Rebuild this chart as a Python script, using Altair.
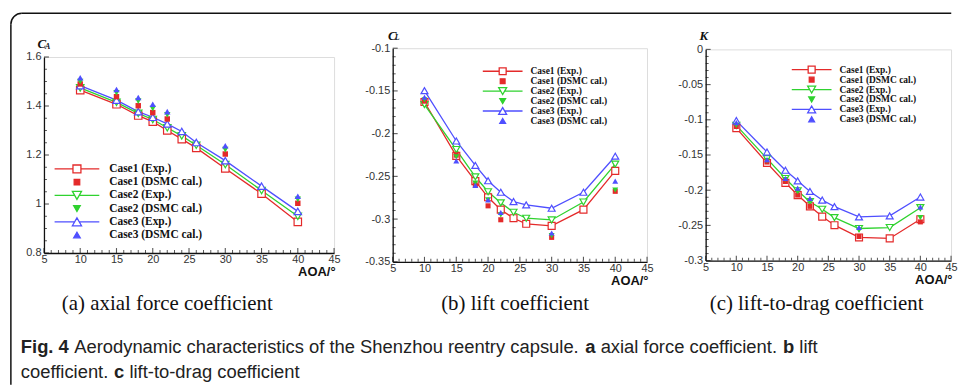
import altair as alt
import pandas as pd

# ---------------- data ----------------
AOA_EXP = [10, 15, 18, 20, 22, 24, 26, 30, 35, 40]
AOA_DSMC = [10, 15, 18, 20, 22, 30, 40]
CASES = ["Case1", "Case2", "Case3"]

CA_EXP = {
    "Case1": [1.465, 1.407, 1.361, 1.336, 1.300, 1.265, 1.229, 1.145, 1.042, 0.927],
    "Case2": [1.474, 1.415, 1.370, 1.345, 1.311, 1.278, 1.240, 1.161, 1.055, 0.950],
    "Case3": [1.483, 1.424, 1.377, 1.354, 1.327, 1.296, 1.251, 1.177, 1.073, 0.970],
}
CA_DSMC = {
    "Case1": [1.490, 1.438, 1.401, 1.373, 1.347, 1.204, 1.003],
    "Case2": [1.500, 1.454, 1.420, 1.390, 1.364, 1.222, 1.019],
    "Case3": [1.515, 1.467, 1.435, 1.407, 1.377, 1.238, 1.032],
}
CL_EXP = {
    "Case1": [-0.163, -0.226, -0.2555, -0.2745, -0.289, -0.299, -0.3055, -0.308, -0.289, -0.2435],
    "Case2": [-0.166, -0.2186, -0.2505, -0.268, -0.281, -0.292, -0.299, -0.301, -0.280, -0.2357],
    "Case3": [-0.1497, -0.2086, -0.2372, -0.2551, -0.2686, -0.2795, -0.2834, -0.2873, -0.2686, -0.2264],
}
CL_DSMC = {
    "Case1": [-0.162, -0.2252, -0.260, -0.2845, -0.3008, -0.3214, -0.2675],
    "Case2": [-0.1605, -0.227, -0.258, -0.2776, -0.295, -0.3194, -0.266],
    "Case3": [-0.1574, -0.2318, -0.2605, -0.2776, -0.2923, -0.3163, -0.2555],
}
K_EXP = {
    "Case1": [-0.1119, -0.1613, -0.1895, -0.2069, -0.2229, -0.2375, -0.2497, -0.2671, -0.2685, -0.2412],
    "Case2": [-0.108, -0.1552, -0.1834, -0.2008, -0.2163, -0.2271, -0.2389, -0.2544, -0.253, -0.2248],
    "Case3": [-0.1011, -0.1458, -0.1716, -0.1867, -0.2017, -0.214, -0.2234, -0.2379, -0.2365, -0.2097],
}
K_DSMC = {
    "Case1": [-0.1095, -0.160, -0.1876, -0.2069, -0.2229, -0.2657, -0.245],
    "Case2": [-0.108, -0.158, -0.1848, -0.2022, -0.216, -0.2568, -0.2389],
    "Case3": [-0.1039, -0.1566, -0.1834, -0.197, -0.2117, -0.253, -0.2238],
}

SERIES = ["Case1 (Exp.)", "Case1 (DSMC cal.)", "Case2 (Exp.)",
          "Case2 (DSMC cal.)", "Case3 (Exp.)", "Case3 (DSMC cal.)"]

X_MAJOR = [5, 10, 15, 20, 25, 30, 35, 40, 45]
CA_TICKS = [0.8, 1, 1.2, 1.4, 1.6]
CL_TICKS = [-0.35, -0.3, -0.25, -0.2, -0.15, -0.1]
K_TICKS = [-0.3, -0.25, -0.2, -0.15, -0.1, -0.05, 0]

CAPTIONS = ["(a) axial force coefficient", "(b) lift coefficient", "(c) lift-to-drag coefficient"]
FIG_LINE1 = [("Fig. 4", "bold"), ("Aerodynamic characteristics of the Shenzhou reentry capsule.", "normal"),
             ("a", "bold"), ("axial force coefficient.", "normal"), ("b", "bold"), ("lift", "normal")]
FIG_LINE2 = [("coefficient.", "normal"), ("c", "bold"), ("lift-to-drag coefficient", "normal")]

# ---------------- styling ----------------
RED, GREEN, BLUE = "#e42a2a", "#2fd22f", "#4f4fff"
CASE_COLORS = [RED, GREEN, BLUE]
EXP_SHAPES = ["square", "triangle-down", "triangle-up"]
SANS = "Liberation Sans"
SERIF = "Liberation Serif"


def long_frame(aoa, table, kind):
    rows = []
    for i, case in enumerate(CASES):
        for a, v in zip(aoa, table[case]):
            rows.append({
                "AOA": a, "val": v, "case": case,
                "series": f"{case} ({'Exp.' if kind == 'Exp' else 'DSMC cal.'})",
                "col": CASE_COLORS[i], "shp": EXP_SHAPES[i],
            })
    return pd.DataFrame(rows)


def legend_paths(r, sq, tri, dsq, dtri):
    def n(v):
        return f"{v / r:.3f}"
    out = []
    out.append(f"M-1,0L{n(-sq)},0M{n(sq)},0L1,0M{n(-sq)},{n(-sq)}L{n(sq)},{n(-sq)}L{n(sq)},{n(sq)}L{n(-sq)},{n(sq)}Z")
    out.append(f"M{n(-dsq)},{n(-dsq)}L{n(dsq)},{n(-dsq)}L{n(dsq)},{n(dsq)}L{n(-dsq)},{n(dsq)}Z")
    h = 0.866 * tri
    out.append(f"M-1,0L{n(-tri / 2)},0M{n(tri / 2)},0L1,0M{n(-tri)},{n(-h)}L{n(tri)},{n(-h)}L0,{n(h)}Z")
    dh = 0.866 * dtri
    out.append(f"M{n(-dtri)},{n(-dh)}L{n(dtri)},{n(-dh)}L0,{n(dh)}Z")
    out.append(f"M-1,0L{n(-tri / 2)},0M{n(tri / 2)},0L1,0M{n(-tri)},{n(h)}L{n(tri)},{n(h)}L0,{n(-h)}Z")
    out.append(f"M{n(-dtri)},{n(dh)}L{n(dtri)},{n(dh)}L0,{n(-dh)}Z")
    return out


def txt(s, x, y, size, weight="normal", font=SANS, align="left", style="normal", color="#1a1a1a"):
    return alt.Chart(pd.DataFrame({"t": [s]})).mark_text(
        align=align, baseline="middle", font=font, fontSize=size,
        fontWeight=weight, fontStyle=style, color=color,
    ).encode(x=alt.value(x), y=alt.value(y), text="t:N")


def panel(exp_tab, dsmc_tab, yticks, yminor, W, H, ytitle, ysub, tpos, spos, xtitle_y,
          leg, msz):
    exp = long_frame(AOA_EXP, exp_tab, "Exp")
    dsmc = long_frame(AOA_DSMC, dsmc_tab, "DSMC")
    both = pd.concat([exp, dsmc], ignore_index=True)

    xscale = alt.Scale(domain=[5, 45], nice=False, zero=False)
    yscale = alt.Scale(domain=[yticks[0], yticks[-1]], nice=False, zero=False)
    xaxis = alt.Axis(values=X_MAJOR, title="AOA/°", titleFont=SANS, titleFontWeight="bold",
                     titleFontSize=13, titleColor="#111", titleAnchor="end", titleAlign="right",
                     titleBaseline="middle", titleX=W + 1, titleY=xtitle_y,
                     labelFont=SANS, labelFontSize=11, labelColor="#333", labelPadding=0.5,
                     labelFlush=False, labelOverlap=False, ticks=False, grid=False,
                     domainColor="#111", domainWidth=1.3)
    yaxis = alt.Axis(values=yticks, title=ytitle, titleFont=SERIF, titleFontStyle="italic",
                     titleFontWeight="bold", titleFontSize=13, titleColor="#111", titleAngle=0,
                     titleAlign="center", titleBaseline="middle", titleX=tpos[0], titleY=tpos[1],
                     labelFont=SANS, labelFontSize=11, labelColor="#333", labelPadding=3,
                     labelFlush=False, labelOverlap=False, labelExpr="datum.value + ''",
                     ticks=False, grid=False, domainColor="#111", domainWidth=1.3)
    X = alt.X("AOA:Q", scale=xscale, axis=xaxis)
    Y = alt.Y("val:Q", scale=yscale, axis=yaxis)

    lines = alt.Chart(exp).mark_line(strokeWidth=1.3).encode(
        x=X, y=Y, stroke=alt.Stroke("col:N", scale=None), detail="case:N", order="AOA:Q")
    exp_pts = alt.Chart(exp).mark_point(filled=False, opacity=1, strokeWidth=1.2).encode(
        x=X, y=Y, shape=alt.Shape("shp:N", scale=None), stroke=alt.Stroke("col:N", scale=None),
        fill=alt.value("white"), size=alt.value(msz[0]))
    dsmc_sq = alt.Chart(dsmc[dsmc["case"] == "Case1"]).mark_point(
        shape="square", filled=True, opacity=1, size=msz[1]).encode(
        x=X, y=Y, fill=alt.Fill("col:N", scale=None))
    dsmc_tri = alt.Chart(dsmc[dsmc["case"] != "Case1"]).mark_point(
        filled=True, opacity=1, size=msz[2]).encode(
        x=X, y=Y, fill=alt.Fill("col:N", scale=None), shape=alt.Shape("shp:N", scale=None))

    r = leg["r"]
    paths = legend_paths(r, *leg["marks"])
    colors = [RED, RED, GREEN, GREEN, BLUE, BLUE]
    fills = ["white", RED, "white", GREEN, "white", BLUE]
    legend = alt.Legend(title=None, orient="none", legendX=leg["x"], legendY=leg["y"],
                        symbolSize=(2 * r) ** 2, symbolStrokeWidth=1.3, symbolOpacity=1,
                        labelFont=SERIF, labelFontWeight="bold", labelFontSize=leg["fs"],
                        labelColor="#111", labelOffset=leg["lo"], clipHeight=leg["ch"],
                        rowPadding=leg["rp"], padding=0, labelLimit=300)
    leg_layer = alt.Chart(both).mark_point(opacity=0).encode(
        x=X, y=Y,
        shape=alt.Shape("series:N", scale=alt.Scale(domain=SERIES, range=paths), legend=legend),
        stroke=alt.Stroke("series:N", scale=alt.Scale(domain=SERIES, range=colors), legend=legend),
        fill=alt.Fill("series:N", scale=alt.Scale(domain=SERIES, range=fills), legend=legend),
    )

    # inward-pointing major / minor ticks drawn through the panel's scales
    xmin = [v for v in range(6, 45) if v % 5 != 0]
    tx_major = alt.Chart(pd.DataFrame({"AOA": X_MAJOR})).mark_tick(
        orient="vertical", size=5, thickness=1.1, color="#111").encode(x=X, y=alt.value(H - 2.5))
    tx_minor = alt.Chart(pd.DataFrame({"AOA": xmin})).mark_tick(
        orient="vertical", size=3, thickness=1, color="#111").encode(x=X, y=alt.value(H - 1.5))
    ty_major = alt.Chart(pd.DataFrame({"val": yticks})).mark_tick(
        orient="horizontal", size=5, thickness=1.1, color="#111").encode(y=Y, x=alt.value(2.5))
    ty_minor = alt.Chart(pd.DataFrame({"val": yminor})).mark_tick(
        orient="horizontal", size=3, thickness=1, color="#111").encode(y=Y, x=alt.value(1.5))

    layers = [tx_major, tx_minor, ty_major, ty_minor, lines, exp_pts, dsmc_sq, dsmc_tri, leg_layer]
    if ysub:
        layers.append(txt(ysub, spos[0], spos[1], 8, weight="bold", font=SERIF, align="center",
                          style="italic", color="#111"))
    return layers


def minor_ticks(lo, hi, step, majors):
    n = int(round((hi - lo) / step))
    vals = [round(lo + k * step, 4) for k in range(1, n)]
    return [v for v in vals if all(abs(v - m) > 1e-9 for m in majors)]


WA, HA = 292, 197.3
WB, HB = 256, 215
WC, HC = 247, 212.6

layers_a = panel(CA_EXP, CA_DSMC, CA_TICKS, minor_ticks(0.8, 1.6, 0.05, CA_TICKS), WA, HA,
                 "C", "A", (-2.6, -13.3), (3.6, -10), 19,
                 dict(r=22.5, marks=(4, 4.6, 2.8, 3.3), x=9.7, y=106.7, fs=11.5, lo=9, ch=12, rp=1.3),
                 (56, 30, 42))
layers_b = panel(CL_EXP, CL_DSMC, CL_TICKS, minor_ticks(-0.35, -0.1, 0.01, CL_TICKS), WB, HB,
                 "C", "L", (-1, -13), (4.5, -10), 18.5,
                 dict(r=20, marks=(3.5, 4.0, 2.4, 2.9), x=89.7, y=18.2, fs=9.5, lo=7, ch=10, rp=0),
                 (49, 26, 36))
layers_c = panel(K_EXP, K_DSMC, K_TICKS, minor_ticks(-0.3, 0, 0.01, K_TICKS), WC, HC,
                 "K", None, (-2.3, -13.5), (0, 0), 19.5,
                 dict(r=20, marks=(3.5, 4.0, 2.4, 2.9), x=85.7, y=15.4, fs=9.5, lo=7, ch=10, rp=0),
                 (49, 26, 36))

# ---------------- frame and captions (positions relative to panel a's plot origin) ----------------
OX, OY = 43.3, 55
deco = []
deco.append(alt.Chart(pd.DataFrame({"k": [0]})).mark_rule(color="#111", strokeWidth=1.5).encode(
    x=alt.value(10 - OX), y=alt.value(22 - OY), y2=alt.value(385 - OY)))
deco.append(alt.Chart(pd.DataFrame({"k": [0]})).mark_rule(color="#111", strokeWidth=1.5).encode(
    x=alt.value(21 - OX), x2=alt.value(956.5 - OX), y=alt.value(11 - OY)))
deco.append(alt.Chart(pd.DataFrame({"k": [0]})).mark_arc(
    innerRadius=10.25, outerRadius=11.75, color="#111").encode(
    x=alt.value(21 - OX), y=alt.value(22 - OY), theta=alt.value(4.7124), theta2=alt.value(6.2832)))

for cap, cx in zip(CAPTIONS, [167.5, 517.5, 821]):
    deco.append(txt(cap, cx - OX, 304 - OY, 21, font=SERIF, align="center", color="#111"))

line1_x = [20, 73.7, 588.1, 603.6, 787.1, 803.6]
for (s, w), x in zip(FIG_LINE1, line1_x):
    deco.append(txt(s, x - OX, 347 - OY, 18.5, weight=w, color="#222"))
line2_x = [20, 113.8, 129.3]
for (s, w), x in zip(FIG_LINE2, line2_x):
    deco.append(txt(s, x - OX, 372 - OY, 18.5, weight=w, color="#222"))

chart_a = alt.layer(*(layers_a + deco)).properties(width=WA, height=HA)
chart_b = alt.layer(*layers_b).properties(width=WB, height=HB)
chart_c = alt.layer(*layers_c).properties(width=WC, height=HC)

chart = alt.hconcat(chart_a, chart_b, chart_c, spacing=59, bounds="flush", center=True).resolve_scale(
    shape="independent", stroke="independent", fill="independent"
).properties(
    padding={"left": 9.25, "top": 10.25, "right": 0, "bottom": 0}
).configure_view(stroke=None).configure(background="white")

chart.save("out.html", embed_options={"renderer": "svg", "actions": False})
